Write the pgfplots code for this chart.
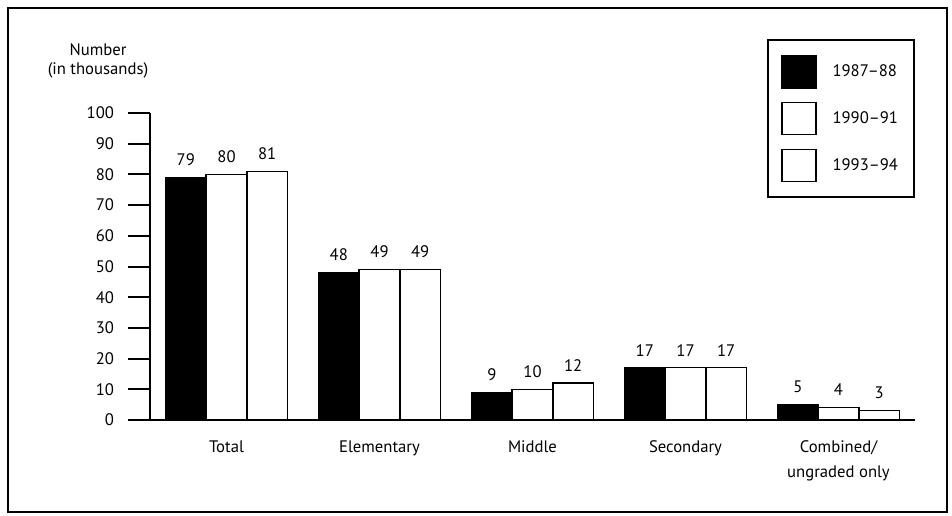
\documentclass[border=0pt]{standalone}
\usepackage{fontspec}
\setmainfont{PT Sans}
\usepackage{pgfplots}
\pgfplotsset{compat=1.18}

\newcommand\fs{\fontsize{12.5}{14}\selectfont}

\begin{document}
\begin{tikzpicture}[font=\fs]
\useasboundingbox (0,0) rectangle (714pt,386.25pt);
\draw[line width=1pt] (6pt,2.25pt) rectangle (710.25pt,380.25pt);
\begin{axis}[
  at={(112.5pt,71.25pt)}, anchor=south west,
  scale only axis, width=573.75pt, height=230.25pt,
  ybar=0pt, bar width=0.266,
  xmin=-0.5, xmax=4.5, ymin=0, ymax=100,
  axis x line=bottom, axis y line=left,
  axis line style={-, line width=1.5pt},
  xtick={0,...,4},
  xticklabels={Total,Elementary,Middle,Secondary,{Combined/\\[4.5pt]ungraded only}},
  xticklabel style={align=center, yshift=4.5pt},
  x tick style={draw=none},
  ytick={0,10,...,100},
  y tick style={line width=1.5pt, black},
  tick align=outside, major tick length=16.5pt,
  yticklabel style={xshift=-7pt},
  /pgf/number format/assume math mode=true,
  ylabel={Number\\(in thousands)},
  ylabel style={rotate=-90, align=center, anchor=center, at={(axis description cs:-0.068,1.17)}},
  nodes near coords, nodes near coords style={anchor=south, yshift=5pt, font=\fs},
  legend image code/.code={\draw[#1, line width=1pt] (0pt,-12pt) rectangle (25.5pt,12pt);},
  legend style={at={(1,1.241)}, anchor=north east, draw=black, line width=1.5pt,
    row sep=10pt, column sep=10pt, inner xsep=10pt, inner ysep=11.5pt, font=\fs},
  legend cell align=left,
  clip=false]
  \addplot[draw=black, fill=black, line width=1pt] coordinates {(0,79) (1,48) (2,9) (3,17) (4,5)};
  \addplot[draw=black, fill=white, line width=1pt] coordinates {(0,80) (1,49) (2,10) (3,17) (4,4)};
  \addplot[draw=black, fill=white, line width=1pt] coordinates {(0,81) (1,49) (2,12) (3,17) (4,3)};
  \legend{1987--88,1990--91,1993--94}
\end{axis}
\end{tikzpicture}
\end{document}
